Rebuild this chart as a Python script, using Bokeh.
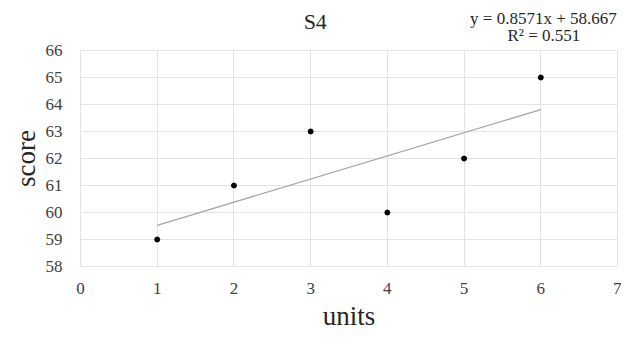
from bokeh.plotting import figure
from bokeh.models import Range1d, FixedTicker
from bokeh.layouts import column
from bokeh.core.properties import value
from bokeh.embed import file_html
from bokeh.resources import INLINE

# Data
units = [1, 2, 3, 4, 5, 6]
score = [59, 61, 63, 60, 62, 65]
slope = 0.8571
intercept = 58.667
r2 = 0.551
x_ticks = [0, 1, 2, 3, 4, 5, 6, 7]
y_ticks = [58, 59, 60, 61, 62, 63, 64, 65, 66]
title_text = "S4"
eq_text = "y = 0.8571x + 58.667"
r2_text = "R\u00b2 = 0.551"

FONT = "'Liberation Serif'"
GRID = "#e3e3e3"
W = 621
HEAD_H = 43
LEFT, RIGHT = 80, 4

xr = Range1d(0, 7)

# ---- header strip (title + trendline equation) ----
head = figure(width=W, height=HEAD_H, output_backend="svg", toolbar_location=None,
              x_range=xr, y_range=Range1d(0, HEAD_H),
              x_axis_type=None, y_axis_type=None,
              min_border_left=LEFT, min_border_right=RIGHT,
              min_border_top=0, min_border_bottom=0)
head.outline_line_color = None
head.xgrid.visible = False
head.ygrid.visible = False
head.text(x=[3.06], y=[22], text=[title_text], text_font=value(FONT),
          text_font_size="22px", text_color="#262626",
          text_align="center", text_baseline="alphabetic")
head.text(x=[6.99], y=[25], text=[eq_text], text_font=value(FONT),
          text_font_size="17px", text_color="#262626",
          text_align="right", text_baseline="alphabetic")
head.text(x=[6.04], y=[8], text=[r2_text], text_font=value(FONT),
          text_font_size="17px", text_color="#262626",
          text_align="center", text_baseline="alphabetic")

# ---- main scatter plot ----
p = figure(width=W, height=333 - HEAD_H, output_backend="svg", toolbar_location=None,
           x_range=xr, y_range=Range1d(58, 66),
           min_border_left=LEFT, min_border_right=RIGHT, min_border_top=7, min_border_bottom=64)
p.outline_line_color = GRID
p.background_fill_color = "white"
p.border_fill_color = "white"

p.xaxis.ticker = FixedTicker(ticks=x_ticks)
p.yaxis.ticker = FixedTicker(ticks=y_ticks)
p.axis.axis_line_color = None
p.axis.major_tick_line_color = None
p.axis.minor_tick_line_color = None
p.axis.major_label_text_font = FONT
p.axis.major_label_text_font_size = "17px"
p.axis.major_label_text_color = "#404040"
p.axis.axis_label_text_font = FONT
p.axis.axis_label_text_font_style = "normal"
p.axis.axis_label_text_font_size = "27px"
p.axis.axis_label_text_color = "#262626"
p.xaxis.major_label_standoff = 10
p.yaxis.major_label_standoff = 12
p.xaxis.axis_label = "units"
p.yaxis.axis_label = "score"
p.xaxis.axis_label_standoff = 4
p.yaxis.axis_label_standoff = 2

p.xgrid.grid_line_color = GRID
p.ygrid.grid_line_color = GRID
p.xgrid.ticker = FixedTicker(ticks=x_ticks)
p.ygrid.ticker = FixedTicker(ticks=y_ticks)

# trend line
x0, x1 = min(units), max(units)
p.line([x0, x1], [slope * x0 + intercept, slope * x1 + intercept],
       line_color="#a6a6a6", line_width=1.3)

p.scatter(units, score, size=5, color="black")

layout = column(head, p, spacing=0)
open("out.html", "w").write(file_html(layout, INLINE))
